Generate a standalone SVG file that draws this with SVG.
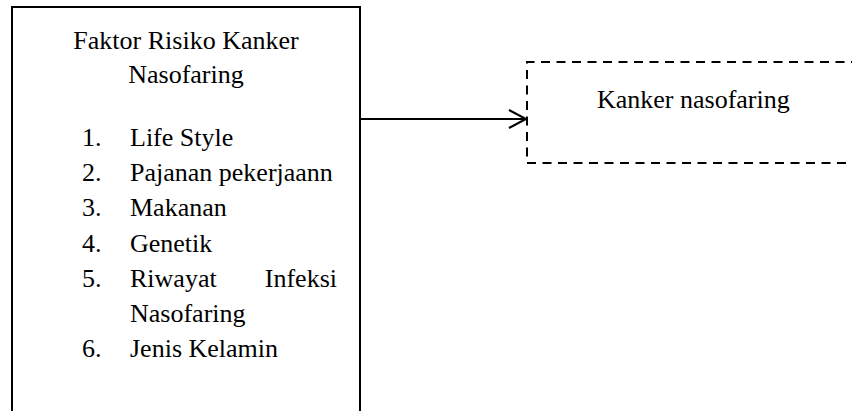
<svg xmlns="http://www.w3.org/2000/svg" width="852" height="411" viewBox="0 0 852 411">
<style>
  .t { font-family: 'Liberation Serif', 'Times New Roman', Times, 'DejaVu Serif', serif; font-size: 26px; fill: #000; }
  .box { fill: none; stroke: #000; stroke-width: 2; }
  .dash { fill: none; stroke: #000; stroke-width: 2; stroke-dasharray: 9 6.5; }
  .conn { fill: none; stroke: #000; stroke-width: 2; }
</style>
<rect width="852" height="411" fill="#fff"/>
<g id="node-faktor" class="t" font-family="Liberation Serif, Times New Roman, serif">
  <path class="box" d="M12,420 V7 H360 V420"/>
  <text x="186" y="49" text-anchor="middle">Faktor Risiko Kanker</text>
  <text x="186" y="83" text-anchor="middle">Nasofaring</text>
  <text x="82" y="146">1.</text><text x="130" y="146">Life Style</text>
  <text x="82" y="181">2.</text><text x="130" y="181">Pajanan pekerjaann</text>
  <text x="82" y="216">3.</text><text x="130" y="216">Makanan</text>
  <text x="82" y="252">4.</text><text x="130" y="252">Genetik</text>
  <text x="82" y="287">5.</text><text x="130" y="287">Riwayat</text><text x="337" y="287" text-anchor="end">Infeksi</text>
  <text x="130" y="322">Nasofaring</text>
  <text x="82" y="357">6.</text><text x="130" y="357">Jenis Kelamin</text>
</g>
<g id="node-kanker" class="t" font-family="Liberation Serif, Times New Roman, serif">
  <path class="dash" d="M860,62 H527 V163 H860"/>
  <text x="597" y="108">Kanker nasofaring</text>
</g>
<g id="connectors">
  <line class="conn" x1="360" y1="119" x2="525" y2="119"/>
  <polyline class="conn" points="509,110 526,119 509,128"/>
</g>
</svg>
